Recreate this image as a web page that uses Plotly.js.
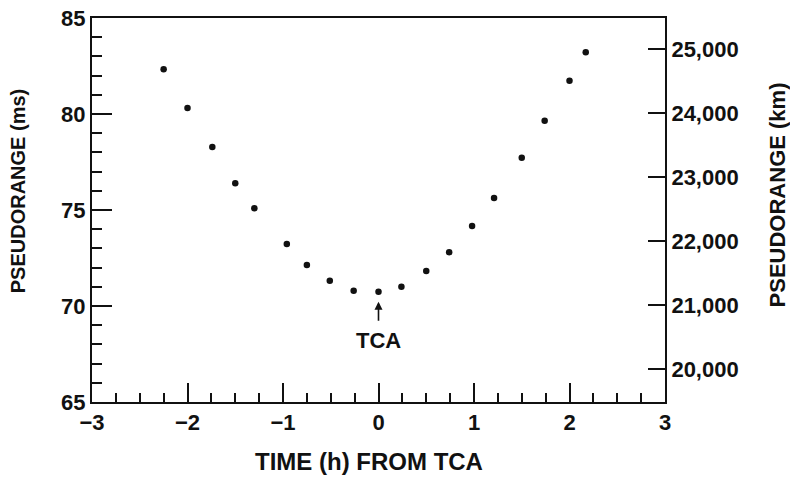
<!DOCTYPE html>
<html>
<head>
<meta charset="utf-8">
<script src="https://cdn.plot.ly/plotly-3.0.1.min.js"></script>
<style>html,body{margin:0;padding:0;background:#fff;}#chart{width:790px;height:478px;}</style>
</head>
<body>
<div id="chart"></div>
<script>
// Data
var timeH = [-2.25, -2.0, -1.74, -1.5, -1.3, -0.96, -0.75, -0.51, -0.26, 0.0, 0.24, 0.5, 0.74, 0.98, 1.21, 1.5, 1.74, 2.0, 2.17];
var pseudorangeMs = [82.33, 80.31, 78.28, 76.39, 75.09, 73.23, 72.14, 71.32, 70.80, 70.74, 71.0, 71.82, 72.8, 74.17, 75.63, 77.72, 79.65, 81.73, 83.21];
var xTickVals = [-3, -2, -1, 0, 1, 2, 3];
var msTickVals = [65, 70, 75, 80, 85];
var kmTickVals = [20000, 21000, 22000, 23000, 24000, 25000];
var msRange = [65, 85];
var xRange = [-3, 3];
var KM_PER_MS = 299.792458;

var fam = '"Liberation Sans", Arial, Helvetica, sans-serif';
var ink = '#111111';
var tickFont = {family: fam, size: 22, color: ink, weight: 'bold'};

var trace = {
  x: timeH, y: pseudorangeMs, type: 'scatter', mode: 'markers',
  marker: {color: ink, size: 6.5}, showlegend: false, hoverinfo: 'skip'
};
var ghost = {
  x: [xRange[0]], y: [msRange[0] * KM_PER_MS], yaxis: 'y2', type: 'scatter', mode: 'markers',
  marker: {opacity: 0}, showlegend: false, hoverinfo: 'skip'
};

var layout = {
  width: 790, height: 478,
  margin: {l: 92, r: 125, t: 18, b: 76},
  paper_bgcolor: '#ffffff', plot_bgcolor: '#ffffff',
  xaxis: {
    range: xRange, tickvals: xTickVals, ticks: 'inside', ticklen: 19, tickwidth: 2, tickcolor: ink,
    minor: {dtick: 0.25, ticks: 'inside', ticklen: 9, tickwidth: 2, tickcolor: ink},
    showline: true, linecolor: ink, linewidth: 2, mirror: true,
    showgrid: false, zeroline: false, tickfont: tickFont, fixedrange: true
  },
  yaxis: {
    range: msRange, tickvals: msTickVals, ticks: 'inside', ticklen: 20, tickwidth: 2, tickcolor: ink,
    minor: {dtick: 1, ticks: 'inside', ticklen: 10, tickwidth: 2, tickcolor: ink},
    showline: true, linecolor: ink, linewidth: 2,
    showgrid: false, zeroline: false, tickfont: tickFont, fixedrange: true
  },
  yaxis2: {
    overlaying: 'y', side: 'right',
    range: [msRange[0] * KM_PER_MS, msRange[1] * KM_PER_MS],
    tickvals: kmTickVals, tickformat: ',d', ticks: 'inside', ticklen: 17, tickwidth: 2, tickcolor: ink,
    showline: true, linecolor: ink, linewidth: 2,
    showgrid: false, zeroline: false, tickfont: tickFont, fixedrange: true
  },
  annotations: [
    {text: 'PSEUDORANGE (ms)', xref: 'paper', yref: 'paper', x: -0.129, y: 0.549,
     textangle: -90, showarrow: false, xanchor: 'center', yanchor: 'middle', borderpad: 0,
     font: {family: fam, size: 20, color: ink, weight: 'bold'}},
    {text: 'PSEUDORANGE (km)', xref: 'paper', yref: 'paper', x: 1.1955, y: 0.538,
     textangle: -90, showarrow: false, xanchor: 'center', yanchor: 'middle', borderpad: 0,
     font: {family: fam, size: 22, color: ink, weight: 'bold'}},
    {text: 'TIME (h) FROM TCA', xref: 'paper', yref: 'paper', x: 0.483, y: -0.156,
     showarrow: false, xanchor: 'center', yanchor: 'middle',
     font: {family: fam, size: 24, color: ink, weight: 'bold'}},
    {text: 'TCA', x: 0, y: 70.22, xref: 'x', yref: 'y', showarrow: true,
     ax: 0, ay: 39, arrowhead: 2, arrowsize: 1, arrowwidth: 1.6, arrowcolor: ink,
     startstandoff: 6, font: {family: fam, size: 22, color: ink, weight: 'bold'}}
  ]
};

Plotly.newPlot('chart', [trace, ghost], layout, {displayModeBar: false, staticPlot: true});
</script>
</body>
</html>
